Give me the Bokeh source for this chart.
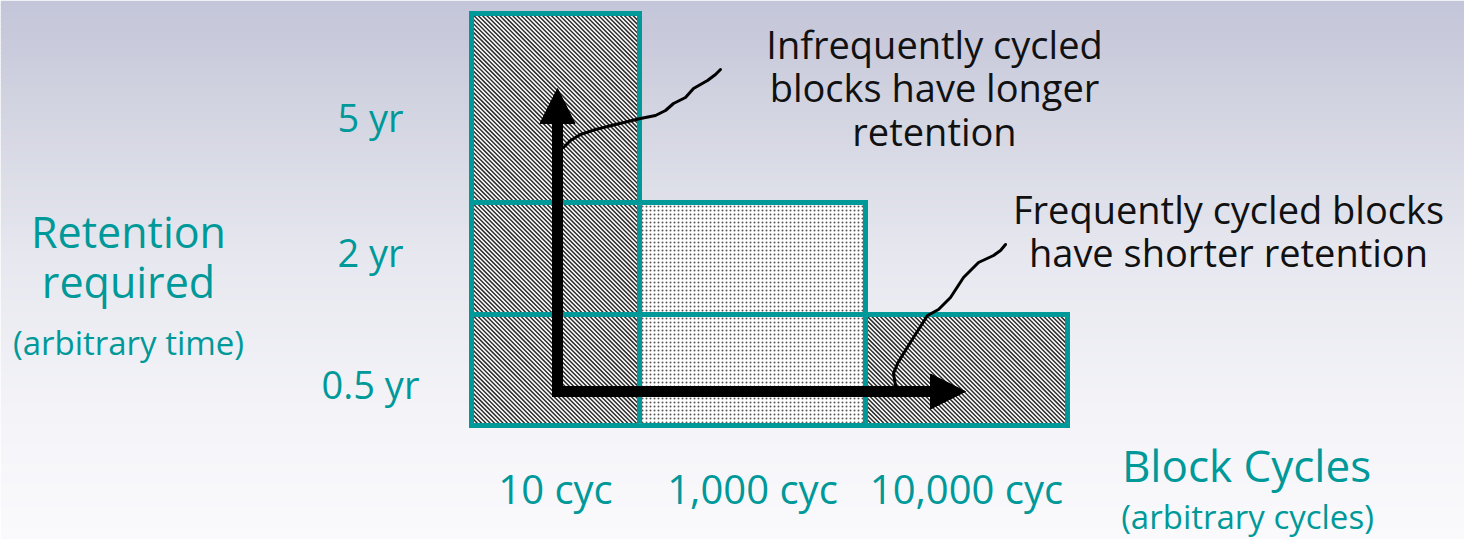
from bokeh.plotting import figure
from bokeh.models import Range1d, ColumnDataSource
from bokeh.core.properties import value
from bokeh.embed import file_html
from bokeh.resources import INLINE

# ---------------- data ----------------
cycles = ["10 cyc", "1,000 cyc", "10,000 cyc"]          # x categories
retention = ["0.5 yr", "2 yr", "5 yr"]                    # y categories (bottom -> top)
rows_per_cycle = [3, 2, 1]                                # retention levels reached per cycle band
cell_texture = ["diag", "dots", "diag"]                   # texture of each cycle band

y_title = ["Retention", "required"]
y_subtitle = "(arbitrary time)"
x_title = "Block Cycles"
x_subtitle = "(arbitrary cycles)"
note_infrequent = ["Infrequently cycled", "blocks have longer", "retention"]
note_frequent = ["Frequently cycled blocks", "have shorter retention"]

# ---------------- layout (screen pixels of the slide) ----------------
W, H = 1464, 539
col_edges = [471, 639, 865, 1067]
row_edges = [425, 314, 202, 13]
ytick_y = [383, 251, 116]
ytick_x = 370
xtick_y = 488
TEAL = "#009999"
FONT = "Open Sans"
STRIPE_PERIOD = 4.3

p = figure(width=W, height=H, x_range=Range1d(0, W), y_range=Range1d(H, 0),
           output_backend="svg", toolbar_location=None, x_axis_type=None, y_axis_type=None,
           min_border=0, outline_line_color=None, background_fill_color="#ffffff",
           border_fill_color="#ffffff")
p.grid.visible = False

# background gradient (slide)
stops = [(0.0, (195, 197, 217)), (0.2, (210, 212, 225)), (0.5, (232, 233, 240)),
         (0.8, (245, 245, 249)), (1.0, (250, 250, 253))]
def grad(t):
    for (t0, c0), (t1, c1) in zip(stops[:-1], stops[1:]):
        if t <= t1:
            f = (t - t0) / (t1 - t0)
            return "#%02x%02x%02x" % tuple(round(a + (b - a) * f) for a, b in zip(c0, c1))
    return "#%02x%02x%02x" % stops[-1][1]
nb = 135
band = H / nb
bt, bb, bc = [], [], []
for i in range(nb):
    y0 = i * band
    bt.append(y0)
    bb.append(y0 + band + 1)
    bc.append(grad((y0 + band / 2) / H))
p.quad(left=0, right=W, top=bt, bottom=bb, fill_color=bc, line_color=None)

# cells
cells = {"diag": dict(left=[], right=[], top=[], bottom=[]), "dots": dict(left=[], right=[], top=[], bottom=[])}
for c, n in enumerate(rows_per_cycle):
    for r in range(n):
        d = cells[cell_texture[c]]
        d["left"].append(col_edges[c]); d["right"].append(col_edges[c + 1])
        d["bottom"].append(row_edges[r]); d["top"].append(row_edges[r + 1])
p.quad(source=ColumnDataSource(cells["dots"]), left="left", right="right", top="top", bottom="bottom",
       fill_color="white", hatch_pattern=".", hatch_color="#555555", hatch_scale=4, hatch_weight=1,
       line_color=None)
p.quad(source=ColumnDataSource(cells["diag"]), left="left", right="right", top="top", bottom="bottom",
       fill_color="white", line_color=None)

# diagonal "\" stripes clipped to each diag cell
sx0, sy0, sx1, sy1 = [], [], [], []
for L, R, T, B in zip(cells["diag"]["left"], cells["diag"]["right"],
                      cells["diag"]["top"], cells["diag"]["bottom"]):
    k = T - R
    while k < B - L:
        xa = max(L, T - k); xb = min(R, B - k)
        if xb > xa:
            sx0.append(xa); sy0.append(xa + k); sx1.append(xb); sy1.append(xb + k)
        k += STRIPE_PERIOD
p.segment(x0=sx0, y0=sy0, x1=sx1, y1=sy1, line_color="#2a2a2a", line_width=1.5, line_cap="butt")

for key in ("dots", "diag"):
    p.quad(source=ColumnDataSource(cells[key]), left="left", right="right", top="top", bottom="bottom",
           fill_color=None, line_color=TEAL, line_width=5, line_join="miter")

# leader lines
lead1_x = [563, 570, 580, 595, 615, 640, 655, 665, 673, 685, 693, 700, 707, 715, 720]
lead1_y = [147, 140, 134, 129, 124, 118, 115, 110, 103, 97, 88, 84, 80, 74, 69]
lead2_x = [895, 893, 897, 903, 913, 927, 938, 950, 963, 978, 993, 1000, 1005]
lead2_y = [385, 373, 363, 353, 337, 315, 309, 297, 277, 262, 255, 250, 244]
p.multi_line(xs=[lead1_x, lead2_x], ys=[lead1_y, lead2_y], line_color="#000000", line_width=3,
             line_join="round", line_cap="round")

# L-shaped arrow
corner_x, corner_y = 557, 391
tip_up, tip_right, head = 88, 965, 35
p.line(x=[corner_x, corner_x, tip_right - head], y=[tip_up + head, corner_y, corner_y],
       line_color="black", line_width=11, line_join="miter", line_cap="butt")
p.patches(xs=[[corner_x, corner_x - head / 2, corner_x + head / 2],
              [tip_right, tip_right - head, tip_right - head]],
          ys=[[tip_up, tip_up + head, tip_up + head],
              [corner_y, corner_y - head / 2, corner_y + head / 2]],
          fill_color="black", line_color="black", line_width=1)

# tick labels
p.text(x=[ytick_x] * 3, y=ytick_y, text=retention, text_align="center", text_baseline="alphabetic",
       text_font=value(FONT), text_font_size="38px", text_color=TEAL)
xc = [(a + b) / 2 for a, b in zip(col_edges[:-1], col_edges[1:])]
p.text(x=xc, y=[xtick_y] * 3, text=cycles, text_align="center", text_baseline="alphabetic",
       text_font=value(FONT), text_font_size="40px", text_color=TEAL)

# axis titles
p.text(x=[128, 128], y=[231, 281], text=y_title, text_align="center", text_baseline="alphabetic",
       text_font=value(FONT), text_font_size="43px", text_color=TEAL)
p.text(x=[128], y=[342], text=[y_subtitle], text_align="center", text_baseline="alphabetic",
       text_font=value(FONT), text_font_size="33px", text_color=TEAL)
p.text(x=[1246], y=[464], text=[x_title], text_align="center", text_baseline="alphabetic",
       text_font=value(FONT), text_font_size="44px", text_color=TEAL)
p.text(x=[1247], y=[516], text=[x_subtitle], text_align="center", text_baseline="alphabetic",
       text_font=value(FONT), text_font_size="33px", text_color=TEAL)

# notes
p.text(x=[934] * 3, y=[43, 86, 130], text=note_infrequent, text_align="center", text_baseline="alphabetic",
       text_font=value(FONT), text_font_size="38px", text_color="#111111")
p.text(x=[1228] * 2, y=[208, 251], text=note_frequent, text_align="center", text_baseline="alphabetic",
       text_font=value(FONT), text_font_size="38px", text_color="#111111")

open("out.html", "w").write(file_html(p, INLINE))
